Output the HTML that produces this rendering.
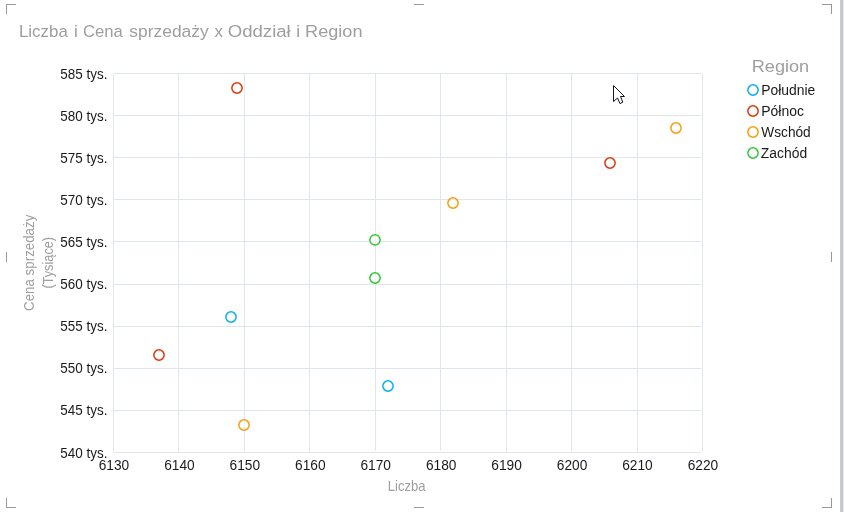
<!DOCTYPE html>
<html lang="pl"><head><meta charset="utf-8"><title>Liczba i Cena sprzedaży x Oddział i Region</title>
<style>
html,body{margin:0;padding:0;background:#fff;overflow:hidden}
body{width:844px;height:512px;position:relative}
svg{display:block;position:absolute;left:0;top:0}
text{font-family:"Liberation Sans",sans-serif}
</style></head><body>
<svg width="844" height="512" viewBox="0 0 844 512">
<rect x="0" y="0" width="844" height="512" fill="#ffffff"/>
<rect x="840" y="0" width="3" height="512" fill="#c9c9c9"/>
<rect x="843" y="0" width="1" height="512" fill="#dde6f0"/>
<g fill="#97979d" shape-rendering="crispEdges">
<rect x="6" y="4" width="10" height="1"/>
<rect x="6" y="4" width="1" height="10"/>
<rect x="822" y="4" width="10" height="1"/>
<rect x="831" y="4" width="1" height="10"/>
<rect x="6" y="507" width="10" height="1"/>
<rect x="6" y="498" width="1" height="10"/>
<rect x="822" y="507" width="10" height="1"/>
<rect x="831" y="498" width="1" height="10"/>
<rect x="414" y="4" width="10" height="1"/>
<rect x="414" y="507" width="10" height="1"/>
<rect x="6" y="252" width="1" height="10"/>
<rect x="831" y="252" width="1" height="10"/>
</g>
<g fill="#dfe6ee">
<rect x="113" y="73.5" width="1" height="377.5"/>
<rect x="178" y="73.5" width="1" height="377.5"/>
<rect x="244" y="73.5" width="1" height="377.5"/>
<rect x="309" y="73.5" width="1" height="377.5"/>
<rect x="375" y="73.5" width="1" height="377.5"/>
<rect x="440" y="73.5" width="1" height="377.5"/>
<rect x="506" y="73.5" width="1" height="377.5"/>
<rect x="571" y="73.5" width="1" height="377.5"/>
<rect x="637" y="73.5" width="1" height="377.5"/>
<rect x="702" y="73.5" width="1" height="377.5"/>
<rect x="113.5" y="73" width="587.5" height="1"/>
<rect x="113.5" y="115" width="587.5" height="1"/>
<rect x="113.5" y="157" width="587.5" height="1"/>
<rect x="113.5" y="199" width="587.5" height="1"/>
<rect x="113.5" y="241" width="587.5" height="1"/>
<rect x="113.5" y="284" width="587.5" height="1"/>
<rect x="113.5" y="326" width="587.5" height="1"/>
<rect x="113.5" y="368" width="587.5" height="1"/>
<rect x="113.5" y="410" width="587.5" height="1"/>
<rect x="113.5" y="452" width="587.5" height="1"/>
</g>
<text y="36.66" font-size="17.4" fill="#9e9e9e"><tspan x="18.99" textLength="48.80" lengthAdjust="spacingAndGlyphs">Liczba</tspan> <tspan x="74.03" textLength="3.88" lengthAdjust="spacingAndGlyphs">i</tspan> <tspan x="82.98" textLength="39.75" lengthAdjust="spacingAndGlyphs">Cena</tspan> <tspan x="129.30" textLength="79.42" lengthAdjust="spacingAndGlyphs">sprzedaży</tspan> <tspan x="214.56" textLength="8.44" lengthAdjust="spacingAndGlyphs">x</tspan> <tspan x="227.70" textLength="63.07" lengthAdjust="spacingAndGlyphs">Oddział</tspan> <tspan x="296.27" textLength="3.88" lengthAdjust="spacingAndGlyphs">i</tspan> <tspan x="305.10" textLength="57.37" lengthAdjust="spacingAndGlyphs">Region</tspan></text>
<text transform="translate(60.31 79) scale(0.9754 1)" font-size="13.8" fill="#1a1a1a">585 tys.</text>
<text transform="translate(60.31 121) scale(0.9754 1)" font-size="13.8" fill="#1a1a1a">580 tys.</text>
<text transform="translate(60.31 163) scale(0.9754 1)" font-size="13.8" fill="#1a1a1a">575 tys.</text>
<text transform="translate(60.31 205) scale(0.9754 1)" font-size="13.8" fill="#1a1a1a">570 tys.</text>
<text transform="translate(60.31 247) scale(0.9754 1)" font-size="13.8" fill="#1a1a1a">565 tys.</text>
<text transform="translate(60.31 289) scale(0.9754 1)" font-size="13.8" fill="#1a1a1a">560 tys.</text>
<text transform="translate(60.31 331) scale(0.9754 1)" font-size="13.8" fill="#1a1a1a">555 tys.</text>
<text transform="translate(60.31 373) scale(0.9754 1)" font-size="13.8" fill="#1a1a1a">550 tys.</text>
<text transform="translate(60.31 415) scale(0.9754 1)" font-size="13.8" fill="#1a1a1a">545 tys.</text>
<text transform="translate(60.31 458) scale(0.9754 1)" font-size="13.8" fill="#1a1a1a">540 tys.</text>
<text transform="translate(98.70 470) scale(0.9950 1)" font-size="13.8" fill="#1a1a1a">6130</text>
<text transform="translate(164.14 470) scale(0.9950 1)" font-size="13.8" fill="#1a1a1a">6140</text>
<text transform="translate(229.58 470) scale(0.9950 1)" font-size="13.8" fill="#1a1a1a">6150</text>
<text transform="translate(295.02 470) scale(0.9950 1)" font-size="13.8" fill="#1a1a1a">6160</text>
<text transform="translate(360.46 470) scale(0.9950 1)" font-size="13.8" fill="#1a1a1a">6170</text>
<text transform="translate(425.90 470) scale(0.9950 1)" font-size="13.8" fill="#1a1a1a">6180</text>
<text transform="translate(491.34 470) scale(0.9950 1)" font-size="13.8" fill="#1a1a1a">6190</text>
<text transform="translate(556.78 470) scale(0.9950 1)" font-size="13.8" fill="#1a1a1a">6200</text>
<text transform="translate(622.22 470) scale(0.9950 1)" font-size="13.8" fill="#1a1a1a">6210</text>
<text transform="translate(687.66 470) scale(0.9950 1)" font-size="13.8" fill="#1a1a1a">6220</text>
<text transform="translate(387.86 491) scale(0.9401 1)" font-size="13.9" fill="#9e9e9e">Liczba</text>
<text transform="translate(751.76 72) scale(1.0712 1)" font-size="16.9" fill="#9e9e9e">Region</text>
<text transform="translate(761.19 94.8) scale(1.0086 1)" font-size="13.8" fill="#1a1a1a">Południe</text>
<text transform="translate(761.19 115.7) scale(1.0135 1)" font-size="13.8" fill="#1a1a1a">Północ</text>
<text transform="translate(761.25 136.65) scale(0.9929 1)" font-size="13.8" fill="#1a1a1a">Wschód</text>
<text transform="translate(760.85 157.55) scale(1.0067 1)" font-size="13.8" fill="#1a1a1a">Zachód</text>
<text transform="translate(33.8 310.92) rotate(-90) scale(0.9588 1)" font-size="13.9" fill="#9e9e9e">Cena sprzedaży</text>
<text transform="translate(52.9 288.59) rotate(-90) scale(0.9178 1)" font-size="13.9" fill="#9e9e9e">(Tysiące)</text>
<circle cx="753" cy="90" r="5.15" fill="#fff" stroke="#08b0f0" stroke-width="1.5"/>
<circle cx="753" cy="111" r="5.15" fill="#fff" stroke="#de380e" stroke-width="1.5"/>
<circle cx="753" cy="132" r="5.15" fill="#fff" stroke="#f59f10" stroke-width="1.5"/>
<circle cx="753" cy="153" r="5.15" fill="#fff" stroke="#33c836" stroke-width="1.5"/>
<circle cx="237" cy="88" r="5.15" fill="#fff" fill-opacity="0.45" stroke="#de380e" stroke-width="1.5"/>
<circle cx="610" cy="163" r="5.15" fill="#fff" fill-opacity="0.45" stroke="#de380e" stroke-width="1.5"/>
<circle cx="159" cy="355" r="5.15" fill="#fff" fill-opacity="0.45" stroke="#de380e" stroke-width="1.5"/>
<circle cx="676" cy="128" r="5.15" fill="#fff" fill-opacity="0.45" stroke="#f59f10" stroke-width="1.5"/>
<circle cx="453" cy="203" r="5.15" fill="#fff" fill-opacity="0.45" stroke="#f59f10" stroke-width="1.5"/>
<circle cx="244" cy="425" r="5.15" fill="#fff" fill-opacity="0.45" stroke="#f59f10" stroke-width="1.5"/>
<circle cx="375" cy="239.9" r="5.15" fill="#fff" fill-opacity="0.45" stroke="#33c836" stroke-width="1.5"/>
<circle cx="375" cy="278" r="5.15" fill="#fff" fill-opacity="0.45" stroke="#33c836" stroke-width="1.5"/>
<circle cx="231" cy="317" r="5.15" fill="#fff" fill-opacity="0.45" stroke="#08b0f0" stroke-width="1.5"/>
<circle cx="388" cy="386" r="5.15" fill="#fff" fill-opacity="0.45" stroke="#08b0f0" stroke-width="1.5"/>
<path d="M613.5 85.5 L613.5 101.5 L617.5 98 L620 103.6 L622.8 102.2 L620.5 96.5 L624.5 96.5 Z" fill="#fff" stroke="#15151f" stroke-width="1" stroke-linejoin="miter"/>
</svg>
</body></html>
